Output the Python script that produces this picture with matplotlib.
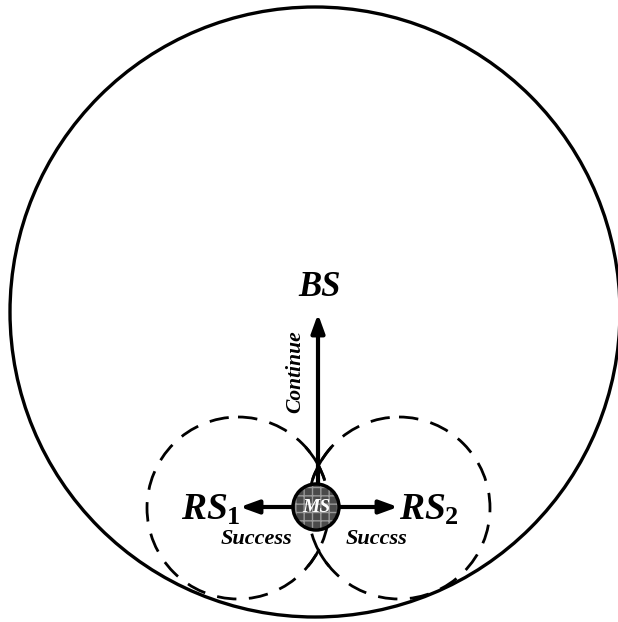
import matplotlib.pyplot as plt
from matplotlib.patches import Circle, Arc

plt.rcParams['mathtext.fontset'] = 'custom'
plt.rcParams['mathtext.rm'] = 'Liberation Serif:bold'
plt.rcParams['mathtext.it'] = 'Liberation Serif:bold:italic'

# Geometry (pixel coordinates, y going down)
cell_center = (315, 312)
cell_radius = 305
rs_centers = [(238, 508), (399, 508)]
rs_radius = 91
ms_center = (316, 507)
ms_radius = 23
# solid pieces of the dashed circles near where they cross (degrees)
solid_arcs = [[(-42, -18), (27, 40)], [(198, 222), (140, 153)]]

# Arrows: (start, end)
arrow_bs = ((318, 485), (318, 314))
arrow_rs1 = ((293, 507), (240, 507))
arrow_rs2 = ((339, 507), (398, 507))

fig = plt.figure(figsize=(6.18, 6.22), dpi=100)
ax = fig.add_axes([0, 0, 1, 1])
ax.set_xlim(0, 618)
ax.set_ylim(622, 0)
ax.set_aspect('equal')
ax.axis('off')

ax.add_patch(Circle(cell_center, cell_radius, fill=False, ec='black', lw=2.4))
for c, arcs in zip(rs_centers, solid_arcs):
    ax.add_patch(Circle(c, rs_radius, fill=False, ec='black', lw=2.0,
                        ls=(0, (7, 4.5))))
    for t1, t2 in arcs:
        ax.add_patch(Arc(c, 2 * rs_radius, 2 * rs_radius, theta1=t1, theta2=t2,
                         ec='black', lw=2.0))

for (x0, y0), (x1, y1) in [arrow_bs, arrow_rs1, arrow_rs2]:
    ax.annotate('', xy=(x1, y1), xytext=(x0, y0),
                arrowprops=dict(arrowstyle='-|>,head_length=1.1,head_width=0.4',
                                lw=3, color='black', shrinkA=0, shrinkB=0))

# mobile station
ax.add_patch(Circle(ms_center, ms_radius, fc='#4a4a4a', ec='#9a9a9a', hatch='++', lw=0, zorder=3))
ax.add_patch(Circle(ms_center, ms_radius, fill=False, ec='black', lw=2.5, zorder=4))
ax.text(ms_center[0], ms_center[1] + 1, 'MS', color='white', fontsize=14, family='Liberation Serif',
        fontweight='bold', fontstyle='italic', ha='center', va='center', zorder=5)

ax.text(320, 287, 'BS', fontsize=25, family='Liberation Serif', fontweight='bold',
        fontstyle='italic', ha='center', va='center')
ax.text(295, 372, 'Continue', fontsize=15.5, family='Liberation Serif', fontweight='bold',
        fontstyle='italic', ha='center', va='center', rotation=90)
ax.text(211, 510, r'$RS_1$', fontsize=27, ha='center', va='center')
ax.text(429, 510, r'$RS_2$', fontsize=27, ha='center', va='center')
ax.text(256, 539, 'Success', fontsize=16, family='Liberation Serif', fontweight='bold',
        fontstyle='italic', ha='center', va='center')
ax.text(376, 539, 'Succss', fontsize=16, family='Liberation Serif', fontweight='bold',
        fontstyle='italic', ha='center', va='center')

fig.savefig('out.png', dpi=100)
